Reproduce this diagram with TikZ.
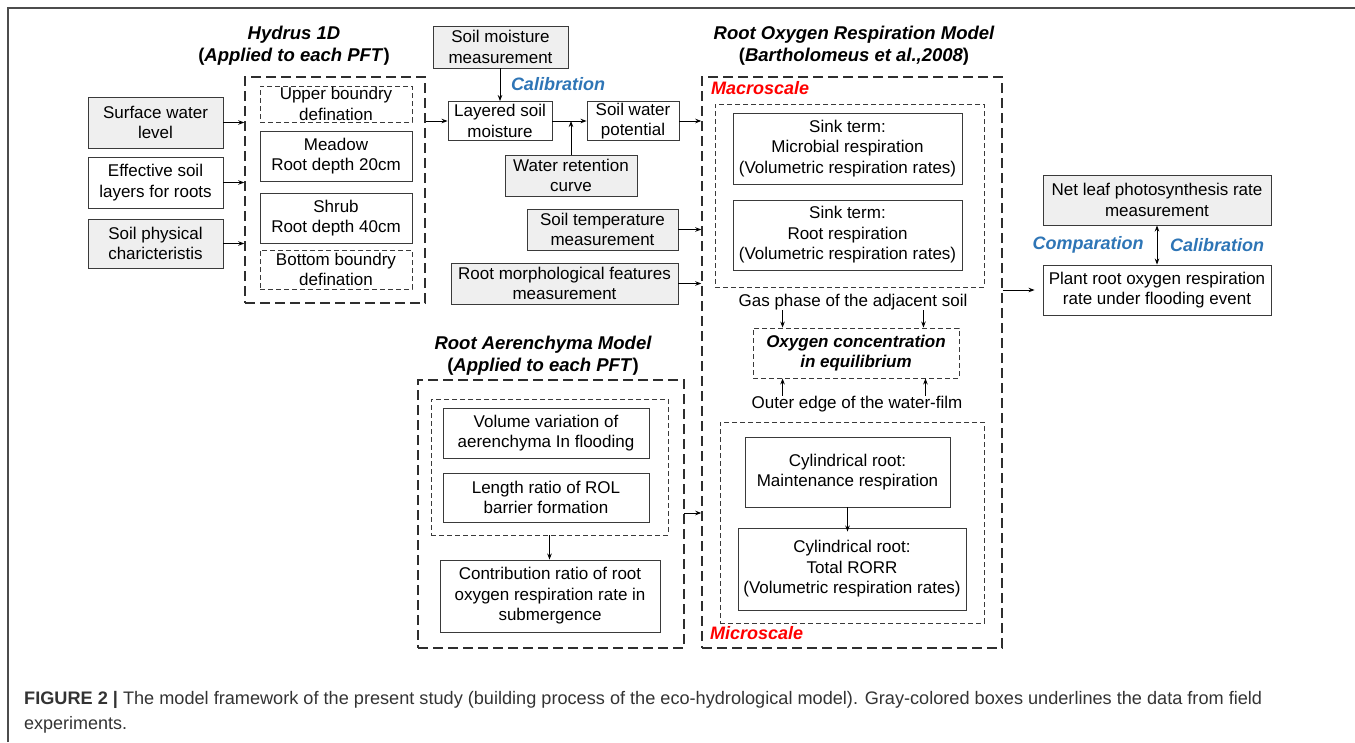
\documentclass[tikz,border=0pt]{standalone}
\usepackage{fontspec}
\setmainfont{Liberation Sans}
\usetikzlibrary{arrows.meta}
\definecolor{gfill}{HTML}{EFEFEF}
\definecolor{bord}{HTML}{3A3A3A}
\definecolor{calblue}{HTML}{2E75B6}
\definecolor{capgray}{HTML}{333333}
\newcommand\bxfont{\fontsize{17}{20.5}\selectfont}
\newcommand\ttlfont{\fontsize{18.5}{22}\selectfont\bfseries}
\tikzset{
  base/.style={draw=bord, line width=0.9pt, inner sep=0pt, align=center, font=\bxfont, text=black},
  gbox/.style={base, fill=gfill},
  wbox/.style={base},
  dbox/.style={base, dash pattern=on 5pt off 3pt},
  outer/.style={draw=bord!80!black, line width=1.5pt, dash pattern=on 10pt off 5pt, inner sep=0pt},
  arr/.style={-{Stealth[length=6pt,width=4.5pt]}, line width=0.9pt, draw=black},
  darr/.style={{Stealth[length=6pt,width=4.5pt]}-{Stealth[length=6pt,width=4.5pt]}, line width=0.9pt, draw=black},
  ttl/.style={align=center, font=\ttlfont, text=black, inner sep=0pt},
  lbl/.style={font=\fontsize{18}{21}\selectfont\bfseries\itshape, inner sep=0pt},
  plain/.style={font=\bxfont, inner sep=0pt, align=center}
}
\begin{document}
\begin{tikzpicture}[x=1pt,y=-1pt]
\useasboundingbox (0,0) rectangle (1355,742);
% frame
\draw[line width=1.5pt, color=black!70] (8,742) -- (8,8) -- (1355,8);

% titles
\node[ttl] (tHyd) at (294,46) {\itshape Hydrus 1D\\(\textit{Applied to each PFT})};
\node[ttl] (tRom) at (854,46) {\itshape Root Oxygen Respiration Model\\(\textit{Bartholomeus et al.,2008})};
\node[ttl] (tAer) at (543,356) {\itshape Root Aerenchyma Model\\(\textit{Applied to each PFT})};

% Hydrus
\node[outer, minimum width=180, minimum height=226] (hyd) at (335,190) {};
\node[dbox, minimum width=152, minimum height=36] (upper) at (336,104) {Upper boundry\\defination};
\node[wbox, minimum width=152, minimum height=50] (meadow) at (336,156) {Meadow\\Root depth 20cm};
\node[wbox, minimum width=152, minimum height=50] (shrub) at (336,218) {Shrub\\Root depth 40cm};
\node[dbox, minimum width=152, minimum height=39] (bottom) at (336,269.5) {Bottom boundry\\defination};

% left inputs
\node[gbox, minimum width=135, minimum height=51] (surf) at (155.5,122.5) {Surface water\\level};
\node[wbox, minimum width=135, minimum height=51] (eff) at (155.5,182.5) {Effective soil\\layers for roots};
\node[gbox, minimum width=135, minimum height=49] (phys) at (155.5,243.5) {Soil physical\\charicteristis};

% middle column
\node[gbox, minimum width=135, minimum height=42] (smm) at (500.5,47) {Soil moisture\\measurement};
\node[lbl, text=calblue] (cal1) at (558,84) {Calibration};
\node[wbox, minimum width=104, minimum height=39] (lay) at (500,121) {Layered soil\\moisture};
\node[wbox, minimum width=92, minimum height=39] (swp) at (633,121) {Soil water\\potential};
\node[gbox, minimum width=132, minimum height=41] (wrc) at (571,175.5) {Water retention\\curve};
\node[gbox, minimum width=151, minimum height=41] (stemp) at (602.5,229.5) {Soil temperature\\measurement};
\node[gbox, minimum width=227, minimum height=41] (rmorph) at (564.5,283.5) {Root morphological features\\measurement};

% Root oxygen respiration model
\node[outer, minimum width=300, minimum height=571] (rom) at (852,362.5) {};
\node[font=\fontsize{18}{21}\selectfont\bfseries\itshape, text=red, anchor=west, inner sep=0pt] (macro) at (711,88) {Macroscale};
\node[dbox, minimum width=269, minimum height=183] (macbox) at (849.5,195.5) {};
\node[wbox, minimum width=229, minimum height=71] (sinkm) at (847.5,148.5) {Sink term:\\Microbial respiration\\(Volumetric respiration rates)};
\node[wbox, minimum width=229, minimum height=70] (sinkr) at (847.5,235) {Sink term:\\Root respiration\\(Volumetric respiration rates)};
\node[plain] (gas) at (853,302) {Gas phase of the adjacent soil};
\node[dbox, minimum width=206, minimum height=50, font=\fontsize{17}{20.5}\selectfont\bfseries\itshape] (oxy) at (856,353) {Oxygen concentration\\in equilibrium};
\node[plain] (outedge) at (857,404) {Outer edge of the water-film};
\node[dbox, minimum width=264, minimum height=201] (micbox) at (852,522.5) {};
\node[wbox, minimum width=205, minimum height=70] (cylm) at (847.5,472) {Cylindrical root:\\Maintenance respiration};
\node[wbox, minimum width=228, minimum height=82] (cylt) at (852,569) {Cylindrical root:\\Total RORR\\(Volumetric respiration rates)};
\node[font=\fontsize{18}{21}\selectfont\bfseries\itshape, text=red, anchor=west, inner sep=0pt] (micro) at (710,633) {Microscale};

% Aerenchyma
\node[outer, minimum width=266, minimum height=268] (aer) at (551,514) {};
\node[dbox, minimum width=237, minimum height=136] (aerin) at (549.5,467) {};
\node[wbox, minimum width=206, minimum height=50] (vol) at (546,433) {Volume variation of\\aerenchyma In flooding};
\node[wbox, minimum width=206, minimum height=49] (len) at (546,497.5) {Length ratio of ROL\\barrier formation};
\node[wbox, minimum width=220, minimum height=72] (contr) at (550,596) {Contribution ratio of root\\oxygen respiration rate in\\submergence};

% right
\node[gbox, minimum width=228, minimum height=50] (net) at (1157,200) {Net leaf photosynthesis rate\\measurement};
\node[wbox, minimum width=228, minimum height=50] (plant) at (1157,290) {Plant root oxygen respiration\\rate under flooding event};
\node[lbl, text=calblue] (comp) at (1088,245) {Comparation};
\node[lbl, text=calblue] (cal2) at (1217,245) {Calibration};

% connectors
\draw[arr] (surf.east) -- (surf.east -| hyd.west);
\draw[arr] (eff.east) -- (eff.east -| hyd.west);
\draw[arr] (phys.east) -- (phys.east -| hyd.west);
\draw[arr] (lay.west -| hyd.east) -- (lay.west);
\draw[arr] (smm.south -| lay.north) -- (lay.north);
\draw[arr] (lay.east) -- (swp.west);
\draw[arr] (wrc.north) -- (wrc.north |- lay.east);
\draw[arr] (swp.east) -- (swp.east -| rom.west);
\draw[arr] (stemp.east) -- (stemp.east -| rom.west);
\draw[arr] (rmorph.east) -- (rmorph.east -| rom.west);
\draw[arr] ([xshift=30pt]oxy.north west |- gas.south) -- ([xshift=30pt]oxy.north west);
\draw[arr] ([xshift=-36pt]oxy.north east |- gas.south) -- ([xshift=-36pt]oxy.north east);
\draw[arr] ([xshift=30pt]oxy.south west |- outedge.north) -- ([xshift=30pt]oxy.south west);
\draw[arr] ([xshift=-34pt]oxy.south east |- outedge.north) -- ([xshift=-34pt]oxy.south east);
\draw[arr] (cylm.south) -- ([yshift=-4pt]cylm.south |- cylt.north);
\draw[arr] (aerin.south) -- (aerin.south |- contr.north);
\coordinate (aerout) at (684,513);
\draw[arr] (aerout) -- (aerout -| rom.west);
\draw[arr] (plant.west -| rom.east) -- ([xshift=-8pt]plant.west);
\draw[darr] (net.south) -- (plant.north);

% caption
\node[anchor=base west, inner sep=0pt, text=capgray] (cap1) at (24,704) {\resizebox{1238pt}{!}{\fontsize{18}{22}\selectfont\textbf{FIGURE 2 |} The model framework of the present study (building process of the eco-hydrological model). Gray-colored boxes underlines the data from field}};
\node[anchor=base west, inner sep=0pt, text=capgray, font=\fontsize{18}{22}\selectfont] (cap2) at (24,729) {experiments.};
\end{tikzpicture}
\end{document}
